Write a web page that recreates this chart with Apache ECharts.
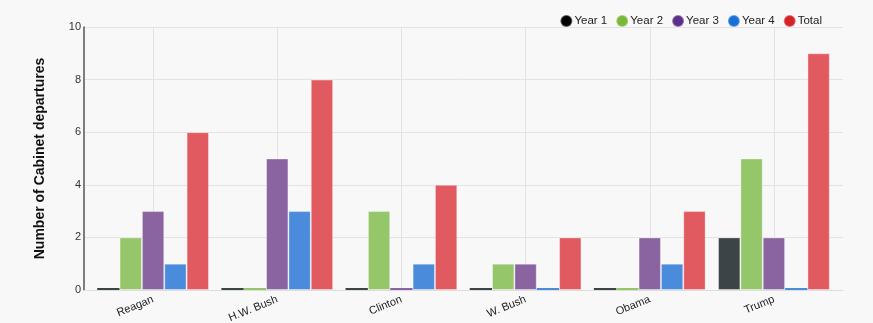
<!DOCTYPE html>
<html>
<head>
<meta charset="utf-8">
<script src="https://cdn.jsdelivr.net/npm/echarts@6/dist/echarts.min.js"></script>
<style>
  html, body { margin: 0; padding: 0; background: #f8f8f8; }
  #chart { width: 873px; height: 323px; }
</style>
</head>
<body>
<div id="chart"></div>
<script>
// Cabinet departures per presidency, by year of first term
const presidents = ['Reagan', 'H.W. Bush', 'Clinton', 'W. Bush', 'Obama', 'Trump'];
const year1 = [0, 0, 0, 0, 0, 2];
const year2 = [2, 0, 3, 1, 0, 5];
const year3 = [3, 5, 0, 1, 2, 2];
const year4 = [1, 3, 1, 0, 1, 0];
const total = [6, 8, 4, 2, 3, 9];
const yTicks = [0, 2, 4, 6, 8, 10];

const seriesDefs = [
  { name: 'Year 1', data: year1, bar: '#3d4447', dot: '#000000' },
  { name: 'Year 2', data: year2, bar: '#95c66a', dot: '#7ab83c' },
  { name: 'Year 3', data: year3, bar: '#8a64a1', dot: '#5e2f88' },
  { name: 'Year 4', data: year4, bar: '#4a8cdb', dot: '#1a6fd6' },
  { name: 'Total',  data: total, bar: '#e05a5f', dot: '#d32228' }
];

const sans = '"Liberation Sans", Arial, sans-serif';

// Half-step slots: odd slots fall on the middle of each president's group
const guideSlots = [];
for (let i = 0; i <= presidents.length * 2; i++) guideSlots.push(String(i));

const chart = echarts.init(document.getElementById('chart'), null, { renderer: 'canvas' });

chart.setOption({
  backgroundColor: '#f8f8f8',
  animation: false,
  textStyle: { fontFamily: sans },
  legend: {
    top: 9,
    right: 46,
    itemWidth: 12,
    itemHeight: 12,
    itemGap: 8,
    icon: 'circle',
    textStyle: { fontSize: 11.5, fontFamily: sans, color: '#222', padding: [0, 0, 0, -3] },
    data: seriesDefs.map(s => ({ name: s.name, itemStyle: { color: s.dot } }))
  },
  grid: [
    { left: 84, right: 30, top: 27, bottom: 33, outerBoundsMode: 'none' },
    { left: 91, right: 37, top: 27, bottom: 33, outerBoundsMode: 'none' }
  ],
  xAxis: [
    {
      type: 'category',
      gridIndex: 0,
      data: guideSlots,
      boundaryGap: false,
      axisLine: { show: true, lineStyle: { color: '#dddddd', width: 1 } },
      axisTick: { show: false },
      axisLabel: { show: false },
      splitLine: { show: false }
    },
    {
      type: 'category',
      gridIndex: 1,
      data: presidents,
      axisLine: { show: false },
      axisTick: { show: false },
      axisLabel: { rotate: 22, fontSize: 11, fontFamily: sans, color: '#222', margin: 9 },
      splitLine: { show: false }
    },
    {
      type: 'category',
      gridIndex: 1,
      data: guideSlots,
      boundaryGap: false,
      axisLine: { show: false },
      axisTick: { show: false },
      axisLabel: { show: false },
      splitLine: {
        show: true,
        interval: (idx) => idx % 2 === 1,
        lineStyle: { color: '#e3e3e3', width: 1 }
      }
    }
  ],
  yAxis: [
    {
      type: 'value',
      gridIndex: 0,
      min: yTicks[0],
      max: yTicks[yTicks.length - 1],
      interval: 2,
      name: 'Number of Cabinet departures',
      nameLocation: 'middle',
      nameGap: 37,
      nameTextStyle: { fontSize: 14, fontWeight: 'bold', color: '#111', fontFamily: sans },
      axisLine: { show: true, lineStyle: { color: '#555555', width: 1.5 } },
      axisTick: { show: false },
      axisLabel: { fontSize: 11, fontFamily: sans, color: '#333', margin: 3 },
      splitLine: { show: true, lineStyle: { color: '#e3e3e3', width: 1 } }
    },
    {
      type: 'value',
      gridIndex: 1,
      min: yTicks[0],
      max: yTicks[yTicks.length - 1],
      interval: 2,
      show: false,
      splitLine: { show: false }
    }
  ],
  series: seriesDefs.map(s => ({
    name: s.name,
    type: 'bar',
    xAxisIndex: 1,
    yAxisIndex: 1,
    // zero-valued entries render as a thin baseline stroke without the pale edge
    data: s.data.map(v => v === 0
      ? { value: v, itemStyle: { borderWidth: 0 } }
      : v),
    barGap: '0%',
    barCategoryGap: '10%',
    barMinHeight: 2,
    itemStyle: {
      color: s.bar,
      borderColor: 'rgba(255,255,255,0.35)',
      borderWidth: 1
    }
  }))
});
</script>
</body>
</html>
